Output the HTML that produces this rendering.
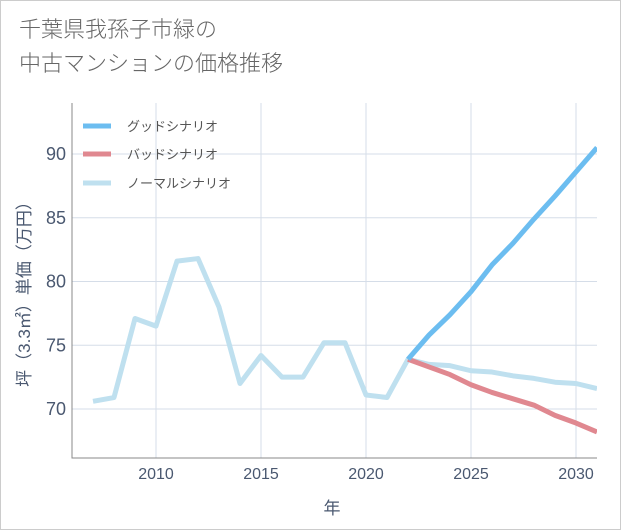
<!DOCTYPE html>
<html><head><meta charset="utf-8"><style>
body{margin:0;background:#fff;}
#wrap{position:relative;width:619px;height:528px;border:1px solid #ccc;background:#fff;font-family:"Liberation Sans","Noto Sans CJK JP",sans-serif;}
#title{position:absolute;left:18px;top:12px;font-size:22px;line-height:34px;color:#666;font-weight:300;}
</style></head><body>
<div id="wrap">
<div id="title">千葉県我孫子市緑の<br>中古マンションの価格推移</div>
<svg id="chart" width="621" height="530" style="position:absolute;left:-1px;top:-1px"></svg>
</div>
<script>
const years=[2007,2008,2009,2010,2011,2012,2013,2014,2015,2016,2017,2018,2019,2020,2021,2022,2023,2024,2025,2026,2027,2028,2029,2030,2031];
const normal=[70.6,70.9,77.1,76.5,81.6,81.8,78,72,74.2,72.5,72.5,75.2,75.2,71.1,70.9,73.9,73.5,73.4,73.0,72.9,72.6,72.4,72.1,72.0,71.6];
const goodYears=[2022,2023,2024,2025,2026,2027,2028,2029,2030,2031];
const good=[73.9,75.8,77.4,79.2,81.3,83.0,84.9,86.7,88.6,90.5];
const bad=[73.9,73.3,72.7,71.9,71.3,70.8,70.3,69.5,68.9,68.2];
const xTicks=[2010,2015,2020,2025,2030];
const yTicks=[70,75,80,85,90];
const L=72,R=597,T=103,B=458;
const x=v=>156+(v-2010)*21;
const y=v=>409-(v-70)*12.75;
const svg=document.getElementById('chart');
const NS='http://www.w3.org/2000/svg';
function mk(t,a){const e=document.createElementNS(NS,t);for(const k in a)e.setAttribute(k,a[k]);svg.appendChild(e);return e;}
xTicks.forEach(t=>{const g=mk('line',{x1:x(t),x2:x(t),y1:T,y2:B,stroke:'#d5dde8'});


const l=mk('text',{x:x(t),y:B+21,'text-anchor':'middle','font-size':16,fill:'#4a5870'});l.textContent=t;

});
yTicks.forEach(t=>{const g=mk('line',{x1:L,x2:R,y1:y(t),y2:y(t),stroke:'#d5dde8'});


const l=mk('text',{x:L-6,y:y(t)+6,'text-anchor':'end','font-size':18,fill:'#4a5870'});l.textContent=t;

});
const ax=mk('path',{d:`M${L} ${T}V${B}H${R}`,fill:'none',stroke:'#888'});


const clip=mk('clipPath',{id:'c'});
const cr=document.createElementNS(NS,'rect');cr.setAttribute('x',L);cr.setAttribute('y',T);cr.setAttribute('width',R-L);cr.setAttribute('height',B-T);clip.appendChild(cr);
function line(xs,ys,c,n){const p=mk('polyline',{points:xs.map((v,i)=>x(v)+','+y(ys[i])).join(' '),fill:'none',stroke:c,'stroke-width':5,'stroke-linejoin':'round','clip-path':'url(#c)'});

}
line(years,normal,'#bfe0ef','normal-line');
line(goodYears,bad,'#e08890','bad-line');
line(goodYears,good,'#6cbdf0','good-line');
const leg=[['グッドシナリオ','#6cbdf0',126],['バッドシナリオ','#e08890',154],['ノーマルシナリオ','#bfe0ef',183]];
leg.forEach(d=>{const s=mk('line',{x1:83,x2:111,y1:d[2],y2:d[2],stroke:d[1],'stroke-width':5});


const t=mk('text',{x:127,y:d[2]+5,'font-size':13,fill:'#555'});t.textContent=d[0];

});
const xt=mk('text',{x:332,y:514,'text-anchor':'middle','font-size':17,fill:'#4a5870'});xt.textContent='年';


const yt=mk('text',{x:0,y:0,'text-anchor':'middle','font-size':17,fill:'#4a5870',transform:'translate(30 290) rotate(-90)'});yt.textContent='坪（3.3㎡）単価（万円）';


</script>
</body></html>
